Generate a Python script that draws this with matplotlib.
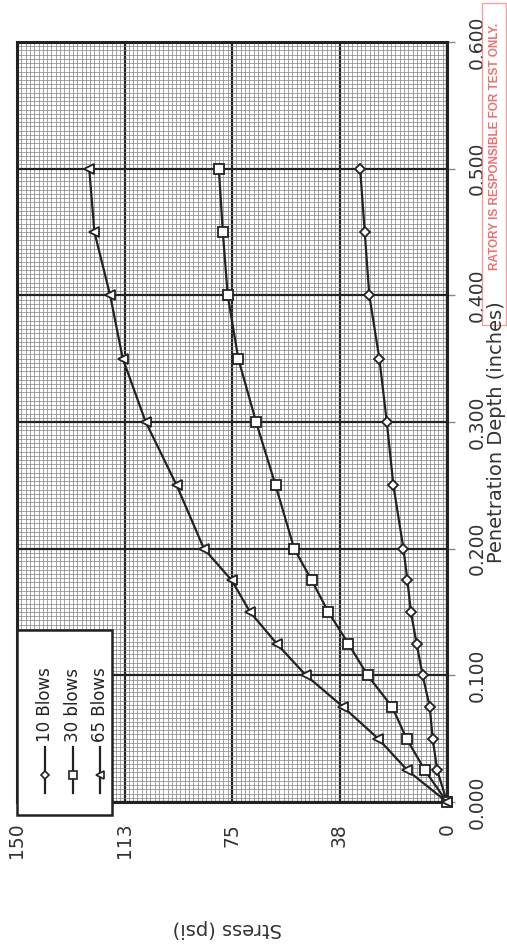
import numpy as np
import matplotlib
matplotlib.use("Agg")
import matplotlib.pyplot as plt
from matplotlib.lines import Line2D
from matplotlib.patches import Rectangle

# Données (profondeur en pouces, contrainte en psi)
depth = [0.000, 0.025, 0.050, 0.075, 0.100, 0.125, 0.150, 0.175,
         0.200, 0.250, 0.300, 0.350, 0.400, 0.450, 0.500]
stress_10 = [0.0, 3.4, 5.0, 6.0, 8.5, 10.6, 12.6, 13.8,
             15.2, 18.7, 21.0, 23.6, 27.1, 28.7, 30.3]
stress_30 = [0.0, 7.7, 14.1, 19.1, 27.7, 34.4, 41.4, 47.2,
             53.3, 59.8, 66.6, 72.8, 76.5, 78.2, 79.6]
stress_65 = [0.0, 13.8, 24.0, 36.2, 49.2, 59.4, 68.7, 75.1,
             84.8, 94.3, 105.1, 113.1, 117.5, 123.0, 124.8]

series_names = ["10 Blows", "30 blows", "65 Blows"]
series_markers = ["D", "s", "<"]
series_sizes = [5, 7, 7]

stress_ticks = [0, 37.5, 75, 112.5, 150]
stress_tick_labels = ["0", "38", "75", "113", "150"]
depth_ticks = [0.0, 0.1, 0.2, 0.3, 0.4, 0.5, 0.6]
depth_tick_labels = ["0.000", "0.100", "0.200", "0.300", "0.400", "0.500", "0.600"]

W, H = 507, 946
fig = plt.figure(figsize=(W / 100, H / 100), dpi=100)
fig.patch.set_facecolor("white")


def fx(px):
    return px / W


def fy(py):
    return 1 - py / H


# Le graphique est tourné de 90° : contrainte en horizontal (inversée), profondeur en vertical
ax = fig.add_axes([fx(17), fy(802), fx(447) - fx(17), fy(42) - fy(802)])
ax.set_xlim(150, 0)
ax.set_ylim(0, 0.6)

# Grille
ax.set_xticks(np.arange(0, 150.01, 1.5), minor=True)
ax.set_yticks(np.arange(0, 0.6001, 0.1 / 30), minor=True)
ax.grid(which="minor", color="#808080", linewidth=0.5)
ax.grid(which="major", color="#222222", linewidth=1.6)
ax.set_axisbelow(True)

for sp in ax.spines.values():
    sp.set_linewidth(2.2)
    sp.set_color("#222222")

# Axe contrainte (bas)
ax.set_xticks(stress_ticks)
ax.set_xticklabels(stress_tick_labels, rotation=90, fontsize=13.5, color="#333333")
ax.tick_params(axis="x", which="major", length=0, pad=15)
ax.tick_params(axis="both", which="minor", length=0)

# Axe profondeur (droite)
ax.yaxis.tick_right()
ax.set_yticks(depth_ticks)
ax.set_yticklabels(depth_tick_labels, rotation=90, va="center", fontsize=13.5, color="#333333")
ax.tick_params(axis="y", which="major", length=6, width=1, color="#888888", pad=9)

# Courbes
all_stress = [stress_10, stress_30, stress_65]
for vals, mk, ms in zip(all_stress, series_markers, series_sizes):
    ax.plot(vals, depth, color="#222222", linewidth=1.6, marker=mk, markersize=ms,
            markerfacecolor="white", markeredgecolor="#222222", markeredgewidth=1.3,
            clip_on=False, zorder=5)

# Titres d'axes
fig.text(fx(497), fy(432), "Penetration Depth (inches)", rotation=90,
         ha="center", va="center", fontsize=14, color="#333333")
fig.text(fx(227), fy(928), "Stress (psi)", rotation=180,
         ha="center", va="center", fontsize=14, color="#333333")

# Légende (tournée)
fig.patches.append(Rectangle((fx(17), fy(815)), fx(112) - fx(17), fy(630) - fy(815),
                             transform=fig.transFigure, facecolor="white",
                             edgecolor="#222222", linewidth=1.8, zorder=10))
leg_x = [45, 73, 100]
for xp, name, mk, ms in zip(leg_x, series_names, series_markers, series_sizes):
    fig.lines.append(Line2D([fx(xp), fx(xp)], [fy(793), fy(747)], transform=fig.transFigure,
                            color="#222222", linewidth=1.6, zorder=11))
    fig.lines.append(Line2D([fx(xp)], [fy(775)], transform=fig.transFigure,
                            marker=mk, markersize=ms - 1, markerfacecolor="white",
                            markeredgecolor="#222222", markeredgewidth=1.2,
                            linestyle="none", zorder=12))
    fig.text(fx(xp), fy(742), name, rotation=90, ha="center", va="bottom",
             fontsize=12, color="#222222", zorder=12)

# Tampon rouge
fig.text(fx(495), fy(270), "RATORY IS RESPONSIBLE FOR TEST ONLY.", rotation=90,
         ha="center", va="bottom", fontsize=8.5, fontweight="bold",
         family=["Liberation Sans", "DejaVu Sans"], color="#e8585a", alpha=0.85)
fig.patches.append(Rectangle((fx(482), fy(325)), fx(506) - fx(482), fy(3) - fy(325),
                             transform=fig.transFigure, facecolor="none",
                             edgecolor="#f08a8a", linewidth=1.0, alpha=0.8))

fig.savefig("out.png", dpi=100)
